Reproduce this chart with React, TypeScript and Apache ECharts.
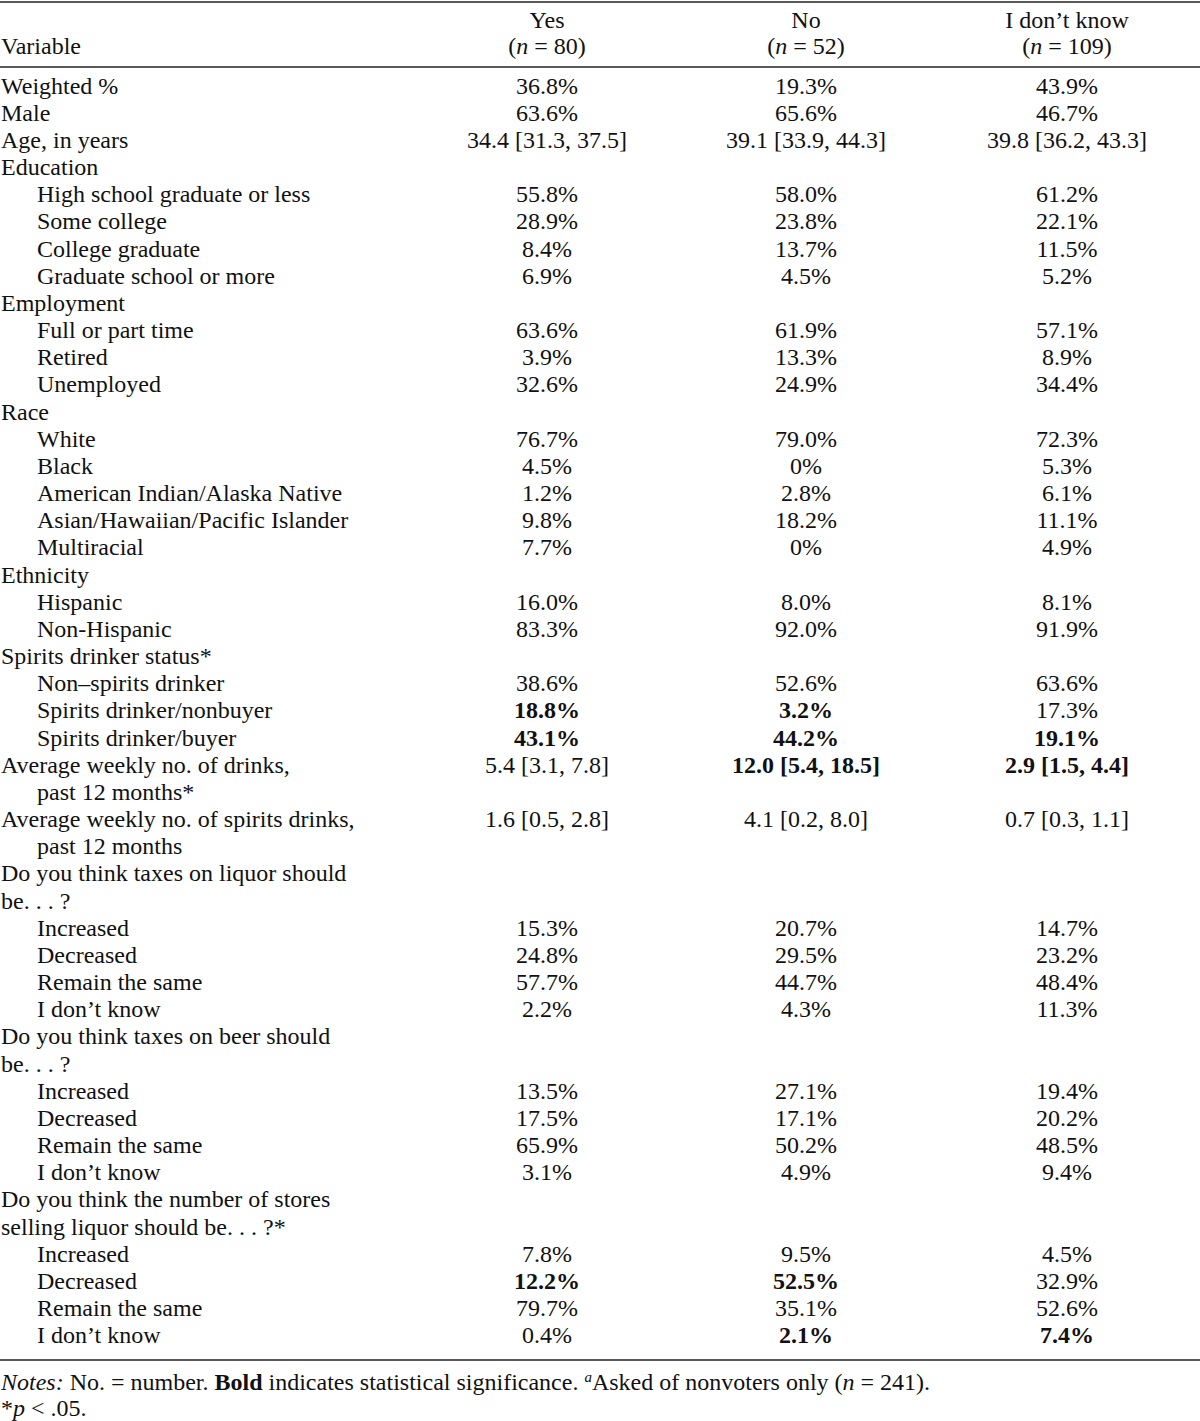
import React, { useEffect, useRef } from "react";
import * as echarts from "echarts";

const columnHeads = ["Yes", "No", "I don’t know"];
const columnNs = ["80", "52", "109"];

const rowLabels = [
  "Weighted %", "Male", "Age, in years", "Education",
  "High school graduate or less", "Some college", "College graduate", "Graduate school or more",
  "Employment", "Full or part time", "Retired", "Unemployed",
  "Race", "White", "Black", "American Indian/Alaska Native", "Asian/Hawaiian/Pacific Islander", "Multiracial",
  "Ethnicity", "Hispanic", "Non-Hispanic",
  "Spirits drinker status*", "Non–spirits drinker", "Spirits drinker/nonbuyer", "Spirits drinker/buyer",
  "Average weekly no. of drinks,", "past 12 months*",
  "Average weekly no. of spirits drinks,", "past 12 months",
  "Do you think taxes on liquor should", "be. . . ?",
  "Increased", "Decreased", "Remain the same", "I don’t know",
  "Do you think taxes on beer should", "be. . . ?",
  "Increased", "Decreased", "Remain the same", "I don’t know",
  "Do you think the number of stores", "selling liquor should be. . . ?*",
  "Increased", "Decreased", "Remain the same", "I don’t know",
];

const rowIndent = [
  0, 0, 0, 0,
  1, 1, 1, 1,
  0, 1, 1, 1,
  0, 1, 1, 1, 1, 1,
  0, 1, 1,
  0, 1, 1, 1,
  0, 1,
  0, 1,
  0, 0,
  1, 1, 1, 1,
  0, 0,
  1, 1, 1, 1,
  0, 0,
  1, 1, 1, 1,
];

const yesValues = [
  "36.8%", "63.6%", "34.4 [31.3, 37.5]", "",
  "55.8%", "28.9%", "8.4%", "6.9%",
  "", "63.6%", "3.9%", "32.6%",
  "", "76.7%", "4.5%", "1.2%", "9.8%", "7.7%",
  "", "16.0%", "83.3%",
  "", "38.6%", "18.8%", "43.1%",
  "5.4 [3.1, 7.8]", "",
  "1.6 [0.5, 2.8]", "",
  "", "",
  "15.3%", "24.8%", "57.7%", "2.2%",
  "", "",
  "13.5%", "17.5%", "65.9%", "3.1%",
  "", "",
  "7.8%", "12.2%", "79.7%", "0.4%",
];

const noValues = [
  "19.3%", "65.6%", "39.1 [33.9, 44.3]", "",
  "58.0%", "23.8%", "13.7%", "4.5%",
  "", "61.9%", "13.3%", "24.9%",
  "", "79.0%", "0%", "2.8%", "18.2%", "0%",
  "", "8.0%", "92.0%",
  "", "52.6%", "3.2%", "44.2%",
  "12.0 [5.4, 18.5]", "",
  "4.1 [0.2, 8.0]", "",
  "", "",
  "20.7%", "29.5%", "44.7%", "4.3%",
  "", "",
  "27.1%", "17.1%", "50.2%", "4.9%",
  "", "",
  "9.5%", "52.5%", "35.1%", "2.1%",
];

const idkValues = [
  "43.9%", "46.7%", "39.8 [36.2, 43.3]", "",
  "61.2%", "22.1%", "11.5%", "5.2%",
  "", "57.1%", "8.9%", "34.4%",
  "", "72.3%", "5.3%", "6.1%", "11.1%", "4.9%",
  "", "8.1%", "91.9%",
  "", "63.6%", "17.3%", "19.1%",
  "2.9 [1.5, 4.4]", "",
  "0.7 [0.3, 1.1]", "",
  "", "",
  "14.7%", "23.2%", "48.4%", "11.3%",
  "", "",
  "19.4%", "20.2%", "48.5%", "9.4%",
  "", "",
  "4.5%", "32.9%", "52.6%", "7.4%",
];

// row indices (0-based) whose value is bold (statistically significant)
const yesBoldRows = [23, 24, 44];
const noBoldRows = [23, 24, 25, 44, 46];
const idkBoldRows = [24, 25, 46];

const noteLine1 = "{i|Notes:} No. = number. {b|Bold} indicates statistical significance. {sup|a}Asked of nonvoters only ({i|n} = 241).";
const noteLine2 = "*{i|p} < .05.";

const FONT = "'Liberation Serif', 'Times New Roman', serif";

export default function App() {
  const ref = useRef<HTMLDivElement>(null);

  useEffect(() => {
    document.body.style.margin = "0";
    const chart = echarts.init(ref.current!, null, { renderer: "svg" });

    const fs = 24;
    const sx = 1;
    const colX = [547, 806, 1067];
    const labelX = 1;
    const indentX = 37;
    const row0 = 85.5;
    const pitch = 27.17;

    const baseStyle = {
      fontFamily: FONT,
      fontSize: fs,
      fill: "#111",
    };
    const rich = {
      i: { fontFamily: FONT, fontSize: fs, fontStyle: "italic", fill: "#111" },
      r: { fontFamily: FONT, fontSize: fs, fill: "#111" },
    };

    const elements: any[] = [];

    const rule = (y: number, w: number) => ({
      type: "line",
      shape: { x1: 0, y1: y, x2: 1200, y2: y },
      style: { stroke: "#222", lineWidth: w },
      silent: true,
    });
    elements.push(rule(2, 1.6));
    elements.push(rule(67, 1.3));
    elements.push(rule(1360, 1.3));

    elements.push({
      type: "text", x: labelX, y: 46, scaleX: sx,
      style: { ...baseStyle, text: "Variable", align: "left", verticalAlign: "middle" },
    });
    columnHeads.forEach((h, k) => {
      elements.push({
        type: "text", x: colX[k], y: 19.5, scaleX: sx,
        style: { ...baseStyle, text: h, align: "center", verticalAlign: "middle" },
      });
      elements.push({
        type: "text", x: colX[k], y: 46, scaleX: sx,
        style: {
          ...baseStyle,
          text: "{r|(}{i|n}{r| = " + columnNs[k] + ")}",
          rich,
          align: "center",
          verticalAlign: "middle",
        },
      });
    });

    const cols = [yesValues, noValues, idkValues];
    const bolds = [yesBoldRows, noBoldRows, idkBoldRows];

    rowLabels.forEach((lab, i) => {
      const y = row0 + i * pitch;
      elements.push({
        type: "text", x: rowIndent[i] ? indentX : labelX, y, scaleX: sx,
        style: { ...baseStyle, text: lab, align: "left", verticalAlign: "middle" },
      });
      cols.forEach((vals, k) => {
        const v = vals[i];
        if (!v) return;
        elements.push({
          type: "text", x: colX[k], y, scaleX: sx,
          style: {
            ...baseStyle,
            text: v,
            fontWeight: bolds[k].includes(i) ? "bold" : "normal",
            align: "center",
            verticalAlign: "middle",
          },
        });
      });
    });

    const nfs = 24;
    const nrich = {
      i: { fontFamily: FONT, fontSize: nfs, fontStyle: "italic", fill: "#111" },
      b: { fontFamily: FONT, fontSize: nfs, fontWeight: "bold", fill: "#111" },
      sup: { fontFamily: FONT, fontSize: 15, fontStyle: "italic", fill: "#111", padding: [0, 0, 10, 0] },
    };
    elements.push({
      type: "text", x: 1, y: 1381.5, scaleX: 1,
      style: { fontFamily: FONT, fontSize: nfs, fill: "#111", text: noteLine1, rich: nrich, align: "left", verticalAlign: "middle" },
    });
    elements.push({
      type: "text", x: 1, y: 1408, scaleX: 1,
      style: { fontFamily: FONT, fontSize: nfs, fill: "#111", text: noteLine2, rich: nrich, align: "left", verticalAlign: "middle" },
    });

    chart.setOption({
      animation: false,
      backgroundColor: "#fff",
      graphic: { elements },
    });

    return () => chart.dispose();
  }, []);

  return <div ref={ref} style={{ width: 1200, height: 1421 }} />;
}
